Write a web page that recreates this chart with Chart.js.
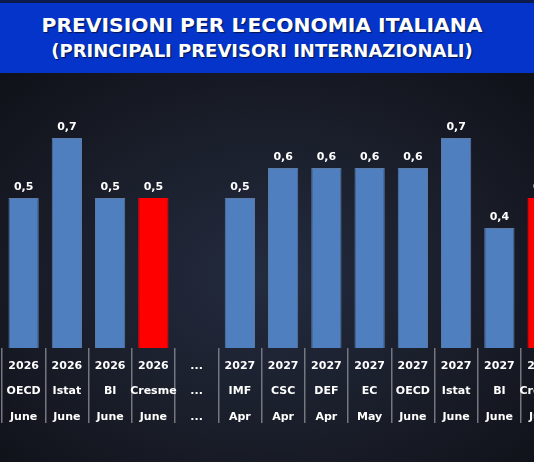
<!DOCTYPE html>
<html>
<head>
<meta charset="utf-8">
<script src="https://cdn.jsdelivr.net/npm/chart.js@4"></script>
<style>
  html, body { margin: 0; padding: 0; width: 534px; height: 462px; overflow: hidden; }
  body {
    position: relative;
    background: radial-gradient(ellipse 70% 60% at 50% 60%, #232b3f 0%, #1a1e2a 55%, #101219 100%);
    font-family: "DejaVu Sans", Arial, sans-serif;
  }
  #band {
    position: absolute; left: 0; top: 0; width: 534px; height: 70px;
    background: #0434c9; border-top: 3px solid #0c1a4c;
    color: #fff; font-weight: bold; text-align: center;
    text-shadow: 1px 1px 1px rgba(0,0,0,.6);
    white-space: nowrap;
  }
  #band .l1 { position: absolute; left: 0; right: 10px; top: 10px; font-size: 20.3px; }
  #band .l2 { position: absolute; left: 0; right: 10px; top: 37px; font-size: 18px; }
  #wrap { position: absolute; left: -10px; top: 73px; }
</style>
</head>
<body>
<div id="band">
  <div class="l1">PREVISIONI PER L’ECONOMIA ITALIANA</div>
  <div class="l2">(PRINCIPALI PREVISORI INTERNAZIONALI)</div>
</div>
<div id="wrap"><canvas id="myChart" width="580" height="389"></canvas></div>
<script>
const years = ['2026', '2026', '2026', '2026', '...', '2027', '2027', '2027', '2027', '2027', '2027', '2027', '2027'];
const sources = ['OECD', 'Istat', 'BI', 'Cresme', '...', 'IMF', 'CSC', 'DEF', 'EC', 'OECD', 'Istat', 'BI', 'Cresme'];
const months = ['June', 'June', 'June', 'June', '...', 'Apr', 'Apr', 'Apr', 'May', 'June', 'June', 'June', 'June'];
const values = [0.5, 0.7, 0.5, 0.5, null, 0.5, 0.6, 0.6, 0.6, 0.6, 0.7, 0.4, 0.5];

const labels = years.map((y, i) => [y, sources[i], months[i]]);
const colors = sources.map(s => s === 'Cresme' ? '#ff0000' : '#4f7fbe');
const borders = sources.map(s => s === 'Cresme' ? '#ff0000' : '#5b7aa6');
const fontFam = '"DejaVu Sans", Arial, sans-serif';

const valueLabels = {
  id: 'valueLabels',
  afterDatasetsDraw(chart) {
    const c = chart.ctx;
    const meta = chart.getDatasetMeta(0);
    c.save();
    c.fillStyle = '#ffffff';
    c.font = 'bold 11px ' + fontFam;
    c.textAlign = 'center';
    c.textBaseline = 'middle';
    meta.data.forEach((bar, i) => {
      const v = values[i];
      if (v == null) return;
      c.fillText(v.toFixed(1).replace('.', ','), bar.x, bar.y - 11);
    });
    c.restore();
  }
};

const ctx = document.getElementById('myChart');

new Chart(ctx, {
  type: 'bar',
  data: {
    labels: labels,
    datasets: [{
      data: values,
      backgroundColor: colors,
      borderColor: borders,
      borderWidth: 1,
      categoryPercentage: 1,
      barPercentage: 0.7
    }]
  },
  options: {
    responsive: false,
    animation: false,
    layout: { padding: { left: 12, right: 5.75, top: 5, bottom: 0 } },
    plugins: { legend: { display: false }, tooltip: { enabled: false } },
    scales: {
      y: { display: false, min: 0, max: 0.9 },
      x: {
        afterFit: s => { s.height = 114; },
        border: { display: false },
        grid: {
          offset: true,
          drawOnChartArea: false,
          tickLength: 75,
          color: '#74777f',
          lineWidth: 1.5
        },
        ticks: {
          padding: -70,
          color: '#ffffff',
          maxRotation: 0,
          autoSkip: false,
          font: { family: fontFam, size: 11, weight: 'bold', lineHeight: 2.33 }
        }
      }
    }
  },
  plugins: [valueLabels]
});
</script>
</body>
</html>
